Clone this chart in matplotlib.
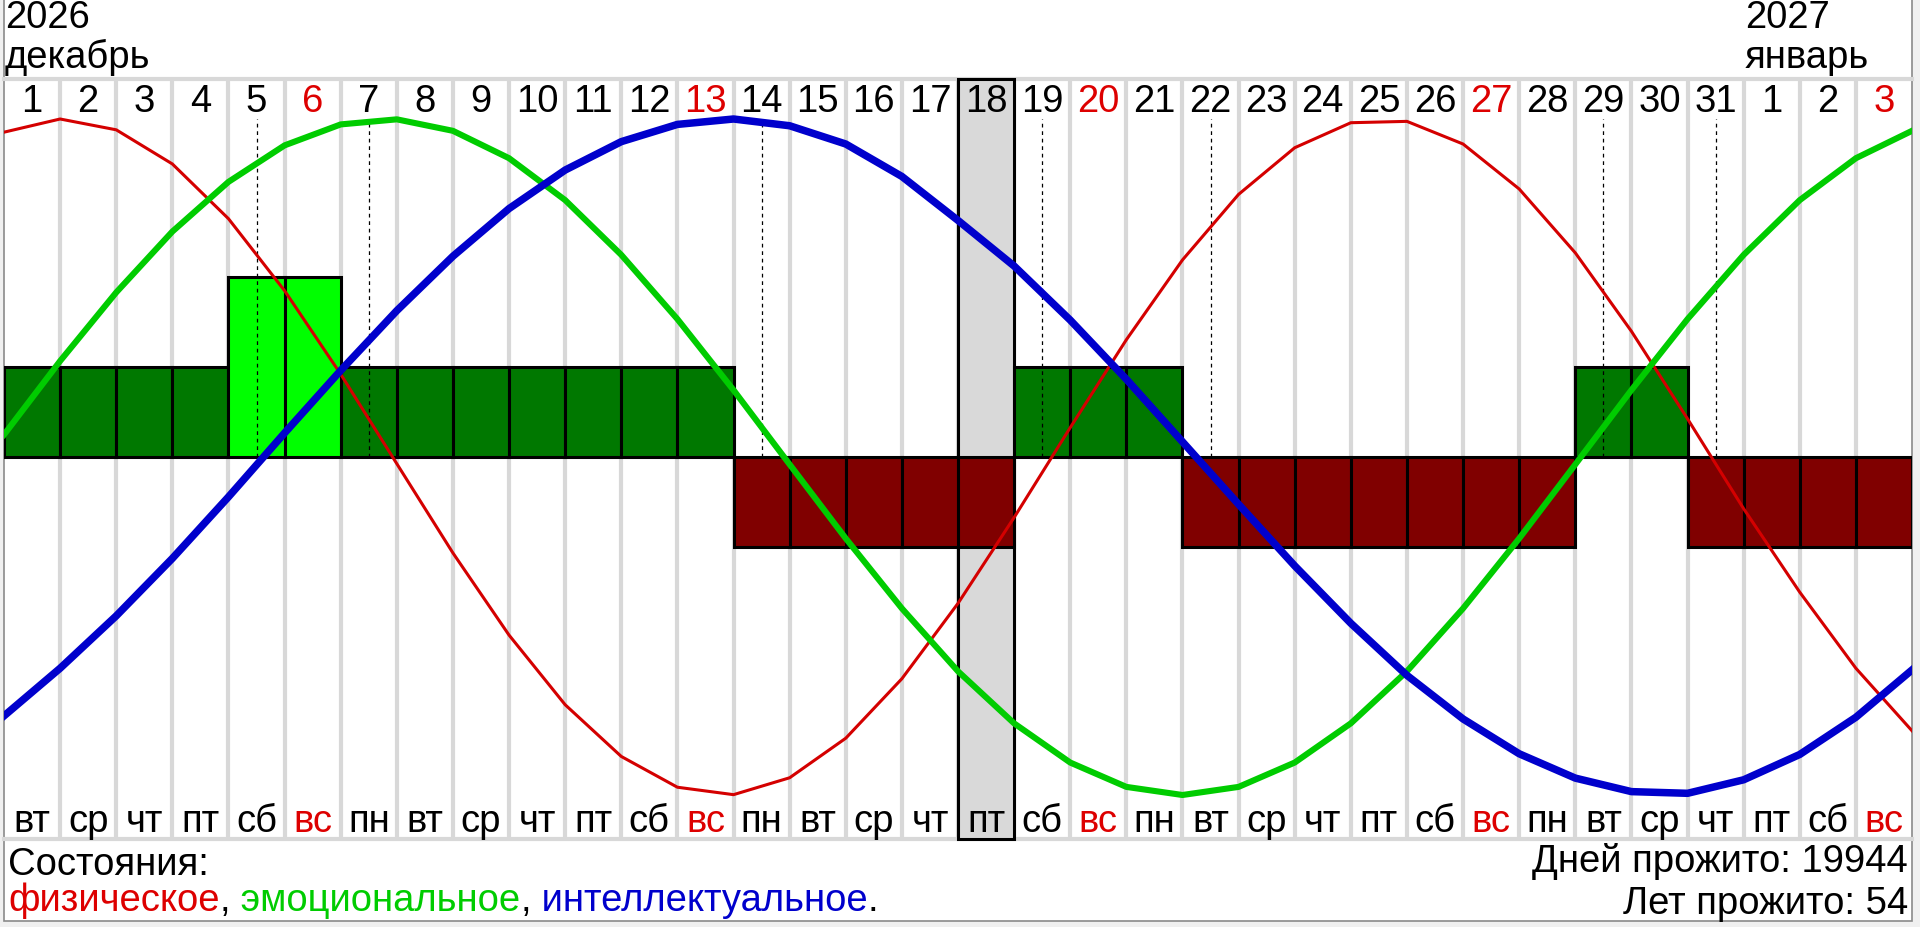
import matplotlib
matplotlib.use('Agg')
import matplotlib.pyplot as plt
from matplotlib.patches import Rectangle
import numpy as np

# ---------------- data ----------------
days = list(range(1, 32)) + [1, 2, 3]
weekdays = ['вт', 'ср', 'чт', 'пт', 'сб', 'вс', 'пн'] * 4 + ['вт', 'ср', 'чт', 'пт', 'сб', 'вс']
levels = [1, 1, 1, 1, 2, 2, 1, 1, 1, 1, 1, 1, 1, -1, -1, -1, -1, -1, 1, 1, 1,
          -1, -1, -1, -1, -1, -1, -1, 1, 1, -1, -1, -1, -1]
critical_days = [4, 6, 13, 18, 21, 28, 30]   # column indices with dashed markers
today_idx = 17

physical = [0.961, 1.000, 0.968, 0.867, 0.705, 0.492, 0.245, -0.020, -0.284, -0.527,
            -0.733, -0.886, -0.977, -0.999, -0.949, -0.832, -0.656, -0.433, -0.179, 0.087,
            0.347, 0.583, 0.777, 0.915, 0.989, 0.993, 0.926, 0.793, 0.604, 0.372,
            0.113, -0.153, -0.400, -0.625, -0.810]
emotional = [0.066, 0.284, 0.487, 0.667, 0.814, 0.922, 0.984, 0.999, 0.965, 0.884,
             0.760, 0.598, 0.408, 0.198, -0.022, -0.241, -0.448, -0.634, -0.788, -0.904,
             -0.976, -1.000, -0.976, -0.904, -0.788, -0.634, -0.448, -0.241, -0.022, 0.198,
             0.408, 0.598, 0.760, 0.884, 0.965]
intellectual = [-0.766, -0.625, -0.470, -0.300, -0.118, 0.071, 0.256, 0.433, 0.594, 0.735,
                0.849, 0.933, 0.984, 1.000, 0.980, 0.926, 0.830, 0.700, 0.565, 0.405,
                0.230, 0.045, -0.140, -0.322, -0.492, -0.646, -0.775, -0.878, -0.950, -0.990,
                -0.995, -0.955, -0.880, -0.770, -0.630]

year_labels = [('2026', 'декабрь', 0), ('2027', 'январь', 31)]
days_lived = 19944
years_lived = 54

# ---------------- style ----------------
plt.rcParams['font.family'] = ['Liberation Sans', 'DejaVu Sans']
W, H = 1920, 928
LEFT, RIGHT = 4, 1912
TOP, BOTTOM = 80, 840
ZERO, AMP = 458, 338
BAR_UNIT = 90 / AMP
FS = 27.5
RED_TXT = '#dd0000'

def fx(px):
    return px / W

def fy(py):
    return 1 - py / H

def v(py):
    return (ZERO - py) / AMP

fig = plt.figure(figsize=(W / 100, H / 100), dpi=100, facecolor='#f0f0f0')
bg = fig.add_axes([0, 0, 1, 1], zorder=-5)
bg.set_xlim(0, W)
bg.set_ylim(H, 0)
bg.axis('off')
bg.add_patch(Rectangle((LEFT, -5), RIGHT - LEFT, 922 + 5, facecolor='white',
                       edgecolor='#8a8a8a', lw=1.2))

ax = fig.add_axes([fx(LEFT), fy(BOTTOM), fx(RIGHT) - fx(LEFT), fy(TOP) - fy(BOTTOM)], zorder=1)
ax.set_xlim(0, len(days))
ylo, yhi = v(BOTTOM), v(TOP)
ax.set_ylim(ylo, yhi)
ax.axis('off')
ax.patch.set_alpha(0)

n = len(days)
# grid
for k in range(1, n):
    ax.plot([k, k], [ylo, yhi], color='#d8d8d8', lw=3, zorder=1, solid_capstyle='butt')
for yy in (ylo, yhi):
    ax.plot([0, n], [yy, yy], color='#d8d8d8', lw=3, zorder=1, clip_on=False)

# today highlight
ax.add_patch(Rectangle((today_idx, ylo), 1, yhi - ylo, facecolor='#d9d9d9',
                       edgecolor='black', lw=2.2, zorder=2, clip_on=False))

# bars
col_map = {1: '#007800', 2: '#00ff00', -1: '#800000'}
ax.bar(np.arange(n) + 0.5, np.array(levels) * BAR_UNIT, width=1.0,
       color=[col_map[l] for l in levels], edgecolor='black', linewidth=2.2, zorder=3)

# critical-day dashed markers
for i in critical_days:
    ax.plot([i + 0.5, i + 0.5], [0, v(120)], color='black', lw=0.9,
            ls=(0, (3, 3)), zorder=4)

# curves
xs = np.arange(n + 1)
ax.plot(xs, physical, color='#d40000', lw=2.2, zorder=5, solid_joinstyle='round')
ax.plot(xs, emotional, color='#00cc00', lw=4.4, zorder=6, solid_joinstyle='round')
ax.plot(xs, intellectual, color='#0000cc', lw=5.4, zorder=7, solid_joinstyle='round')

# day numbers & weekdays
for i, (d, wd) in enumerate(zip(days, weekdays)):
    c = RED_TXT if wd == 'вс' else 'black'
    ax.text(i + 0.5, v(112), str(d), ha='center', va='baseline', fontsize=FS, color=c, zorder=8)
    ax.text(i + 0.5, v(832), wd, ha='center', va='baseline', fontsize=FS, color=c, zorder=8)

# year / month labels
for yr, mon, idx in year_labels:
    x0 = LEFT + idx * (RIGHT - LEFT) / n + 1
    bg.text(x0, 28, yr, ha='left', va='baseline', fontsize=FS)
    bg.text(x0, 68, mon, ha='left', va='baseline', fontsize=FS)

# legend
bg.text(8, 875, 'Состояния:', ha='left', va='baseline', fontsize=FS)
parts = [('физическое', RED_TXT), (',', 'black'), (' эмоциональное', '#00cc00'),
         (',', 'black'), (' интеллектуальное', '#0000cc'), ('.', 'black')]
fig.canvas.draw()
renderer = fig.canvas.get_renderer()
xcur = 8
for txt, c in parts:
    t = bg.text(xcur, 911, txt, ha='left', va='baseline', fontsize=FS, color=c)
    bb = t.get_window_extent(renderer=renderer)
    xcur += bb.width

bg.text(1908, 872, f'Дней прожито: {days_lived}', ha='right', va='baseline', fontsize=FS)
bg.text(1908, 914, f'Лет прожито: {years_lived}', ha='right', va='baseline', fontsize=FS)

fig.savefig('out.png', dpi=100, facecolor=fig.get_facecolor())
